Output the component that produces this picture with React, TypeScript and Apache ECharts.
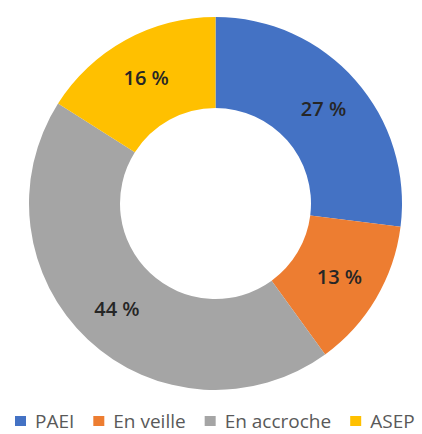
import React, { useEffect, useRef } from "react";
import * as echarts from "echarts";

const categories = ["PAEI", "En veille", "En accroche", "ASEP"];
const values = [27, 13, 44, 16];
const colors = ["#4472C4", "#ED7D31", "#A5A5A5", "#FFC000"];

export default function App() {
  const ref = useRef<HTMLDivElement>(null);
  useEffect(() => {
    if (!ref.current) return;
    const chart = echarts.init(ref.current, undefined, { renderer: "svg" });
    chart.setOption({
      animation: false,
      backgroundColor: "#ffffff",
      color: colors,
      legend: {
        top: 406,
        left: 10,
        itemWidth: 11,
        itemHeight: 10,
        itemGap: 19,
        icon: "rect",
        textStyle: {
          fontSize: 19,
          lineHeight: 20,
          color: "#595959",
          fontFamily: "Open Sans",
          padding: [0, 0, 0, 4],
        },
        data: categories,
      },
      series: [
        {
          type: "pie",
          center: [215.5, 203.5],
          radius: [95.5, 186.5],
          startAngle: 90,
          clockwise: true,
          avoidLabelOverlap: false,
          label: {
            position: "inside",
            formatter: "{c} %",
            fontSize: 20,
            fontWeight: 600,
            color: "#262626",
            fontFamily: "Open Sans",
          },
          labelLine: { show: false },
          itemStyle: { borderWidth: 0 },
          data: categories.map((name, i) => ({ name, value: values[i] })),
        },
      ],
    });
    return () => chart.dispose();
  }, []);
  return (
    <div
      ref={ref}
      style={{ position: "absolute", left: 0, top: 0, width: 422, height: 434 }}
    />
  );
}
